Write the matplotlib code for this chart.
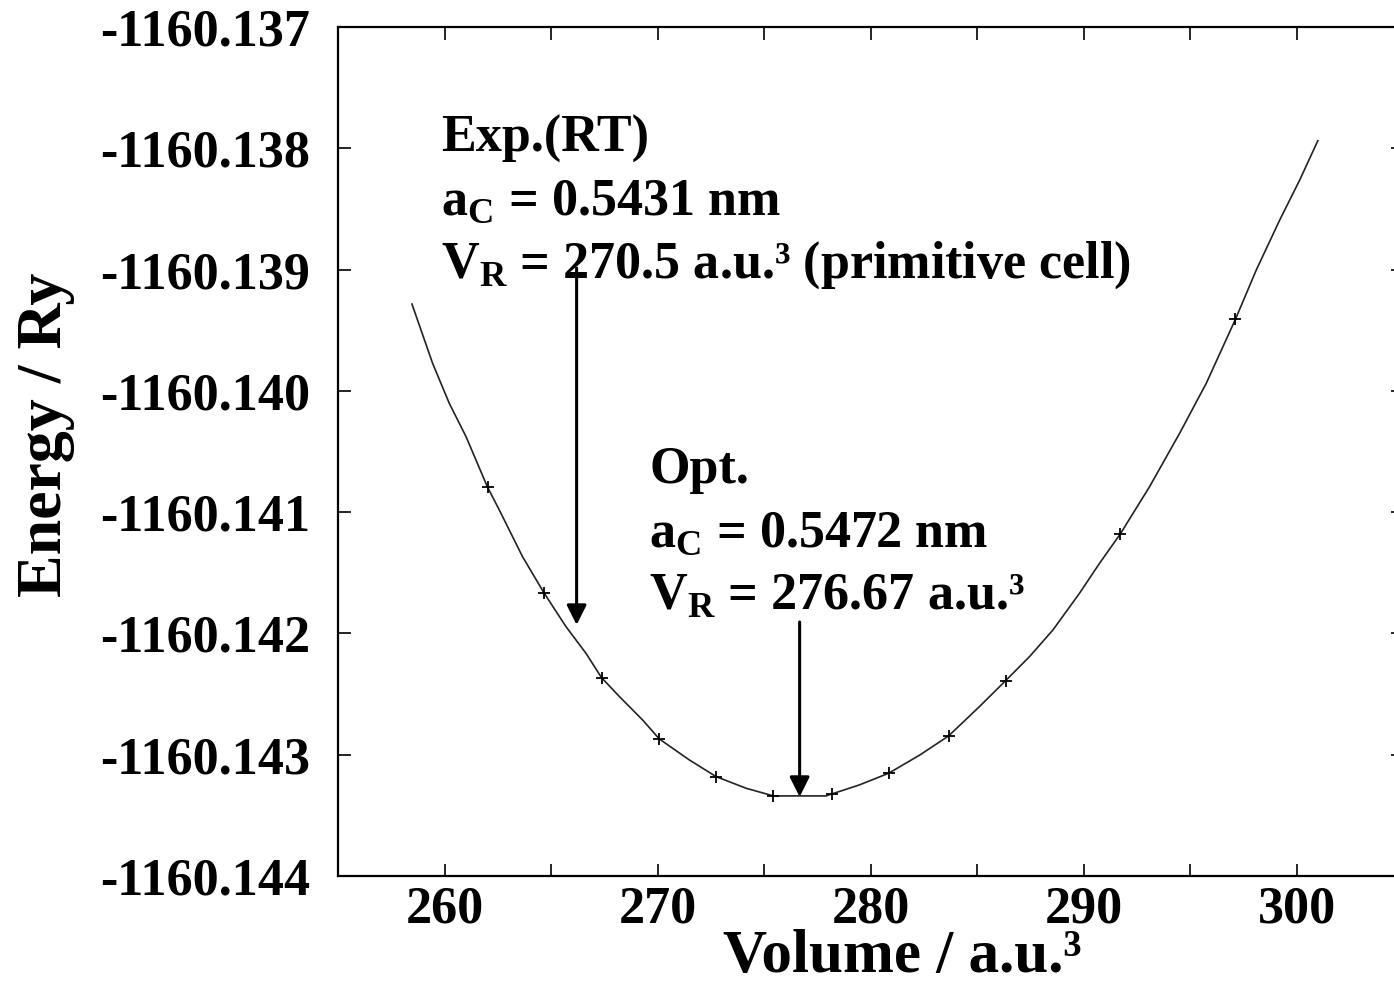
import matplotlib
matplotlib.use('Agg')
import matplotlib.pyplot as plt

# Calculated points (volume / a.u.^3, energy / Ry)
volume_pts = [262.02, 264.68, 267.37, 270.08, 272.75, 275.44, 278.18,
              280.85, 283.66, 286.34, 291.72, 297.13]
energy_pts = [-1160.140795, -1160.141669, -1160.142365, -1160.142870,
              -1160.143181, -1160.143340, -1160.143324, -1160.143153,
              -1160.142846, -1160.142390, -1160.141181, -1160.139410]

# Fitted curve
volume_fit = [258.47, 259.44, 260.22, 261.01, 262.02, 262.57, 263.66, 264.68,
              265.70, 266.64, 267.37, 268.21, 269.30, 270.08, 271.49, 272.75,
              274.16, 275.44, 277.91, 278.18, 279.48, 280.85, 282.30, 283.66,
              285.11, 286.34, 287.46, 288.56, 289.81, 290.75, 291.72, 293.10,
              294.51, 295.76, 297.13, 298.11, 299.21, 300.15, 301.00]
energy_fit = [-1160.139284, -1160.139773, -1160.140102, -1160.140378,
              -1160.140795, -1160.140982, -1160.141367, -1160.141669,
              -1160.141944, -1160.142164, -1160.142365, -1160.142521,
              -1160.142714, -1160.142870, -1160.143043, -1160.143181,
              -1160.143277, -1160.143340, -1160.143340, -1160.143324,
              -1160.143249, -1160.143153, -1160.143004, -1160.142846,
              -1160.142604, -1160.142390, -1160.142192, -1160.141972,
              -1160.141669, -1160.141422, -1160.141181, -1160.140790,
              -1160.140350, -1160.139938, -1160.139410, -1160.139003,
              -1160.138591, -1160.138261, -1160.137937]

xticks = [260, 265, 270, 275, 280, 285, 290, 295, 300]
xticklabels = ['260', '', '270', '', '280', '', '290', '', '300']
yticks = [-1160.144, -1160.143, -1160.142, -1160.141, -1160.140,
          -1160.139, -1160.138, -1160.137]
yticklabels = ['-1160.144', '-1160.143', '-1160.142', '-1160.141',
               '-1160.140', '-1160.139', '-1160.138', '-1160.137']

# Arrows: (x, start energy, tip energy)
exp_arrow = (266.2, -1160.138987, -1160.141930)
opt_arrow = (276.67, -1160.141906, -1160.143348)

plt.rcParams['font.family'] = ['Liberation Serif', 'DejaVu Serif']
plt.rcParams['font.weight'] = 'bold'
plt.rcParams['axes.labelweight'] = 'bold'
plt.rcParams['mathtext.fontset'] = 'custom'
plt.rcParams['mathtext.rm'] = 'Liberation Serif:bold'
plt.rcParams['mathtext.bf'] = 'Liberation Serif:bold'

fig = plt.figure(figsize=(13.94, 9.86), dpi=100)
ax = fig.add_axes([0.2425, 0.1116, 0.764, 0.861])

ax.plot(volume_fit, energy_fit, color='#222222', lw=1.2)
ax.plot(volume_pts, energy_pts, '+', color='black', ms=9, mew=1.3)

ax.set_xlim(255, 305)
ax.set_ylim(-1160.144, -1160.137)
ax.set_xticks(xticks)
ax.set_xticklabels(xticklabels)
ax.set_yticks(yticks)
ax.set_yticklabels(yticklabels)

ax.tick_params(direction='in', top=True, right=True, length=9, width=1.2,
               labelsize=37.5)
ax.tick_params(axis='x', pad=7)
ax.tick_params(axis='y', pad=20)
for sp in ax.spines.values():
    sp.set_linewidth(1.6)

ax.set_xlabel('Volume / a.u.³', fontsize=44, fontweight='bold')
ax.set_ylabel('Energy / Ry', fontsize=46, fontweight='bold')
ax.xaxis.set_label_coords(0.53, -0.0625)
ax.yaxis.set_label_coords(-0.247, 0.52)

# Annotations
fs = 37.5
ax.text(259.85, -1160.138031, 'Exp.(RT)', fontsize=fs, va='baseline')
ax.text(259.85, -1160.138550, r'a$_\mathbf{C}$ = 0.5431 nm', fontsize=fs, va='baseline')
ax.text(259.85, -1160.139069, r'V$_\mathbf{R}$ = 270.5 a.u.³ (primitive cell)',
        fontsize=fs, va='baseline')
ax.text(269.61, -1160.140760, 'Opt.', fontsize=fs, va='baseline')
ax.text(269.61, -1160.141287, r'a$_\mathbf{C}$ = 0.5472 nm', fontsize=fs, va='baseline')
ax.text(269.61, -1160.141807, r'V$_\mathbf{R}$ = 276.67 a.u.³', fontsize=fs, va='baseline')

for x, e0, e1 in [exp_arrow, opt_arrow]:
    ax.annotate('', xy=(x, e1), xytext=(x, e0),
                arrowprops=dict(arrowstyle='-|>', lw=2.2, color='black',
                                mutation_scale=30, shrinkA=0, shrinkB=0))

plt.savefig('out.png', dpi=100)
